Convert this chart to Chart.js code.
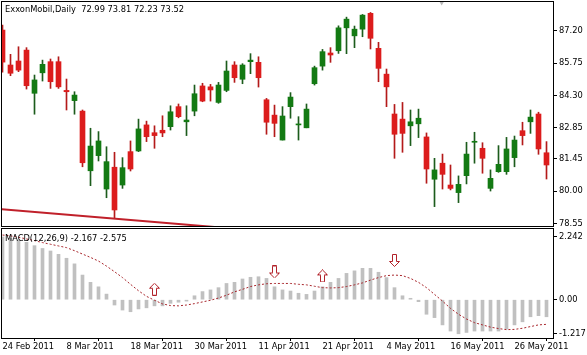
<!DOCTYPE html>
<html>
<head>
<meta charset="utf-8">
<script src="https://cdn.jsdelivr.net/npm/chart.js@4.4.1/dist/chart.umd.min.js"></script>
<style>
  body { margin: 0; background: #fff; }
  #wrap { position: relative; width: 587px; height: 355px; }
  #priceChart { position: absolute; left: 0; top: 0; }
  #macdChart { position: absolute; left: 0; top: 228px; }
</style>
</head>
<body>
<div id="wrap">
  <canvas id="priceChart" width="587" height="228"></canvas>
  <canvas id="macdChart" width="587" height="127"></canvas>
</div>
<script>
// trading days shown on the chart
var dates = ['24 Feb 2011','25 Feb 2011','28 Feb 2011','1 Mar 2011','2 Mar 2011','3 Mar 2011','4 Mar 2011',
  '7 Mar 2011','8 Mar 2011','9 Mar 2011','10 Mar 2011','11 Mar 2011','14 Mar 2011','15 Mar 2011','16 Mar 2011',
  '17 Mar 2011','18 Mar 2011','21 Mar 2011','22 Mar 2011','23 Mar 2011','24 Mar 2011','25 Mar 2011','28 Mar 2011',
  '29 Mar 2011','30 Mar 2011','31 Mar 2011','1 Apr 2011','4 Apr 2011','5 Apr 2011','6 Apr 2011','7 Apr 2011',
  '8 Apr 2011','11 Apr 2011','12 Apr 2011','13 Apr 2011','14 Apr 2011','15 Apr 2011','18 Apr 2011','19 Apr 2011',
  '20 Apr 2011','21 Apr 2011','25 Apr 2011','26 Apr 2011','27 Apr 2011','28 Apr 2011','29 Apr 2011','2 May 2011',
  '3 May 2011','4 May 2011','5 May 2011','6 May 2011','9 May 2011','10 May 2011','11 May 2011','12 May 2011',
  '13 May 2011','16 May 2011','17 May 2011','18 May 2011','19 May 2011','20 May 2011','23 May 2011','24 May 2011',
  '25 May 2011','26 May 2011','27 May 2011','31 May 2011','1 Jun 2011','2 Jun 2011'];
var dateTicks = [0, 8, 16, 24, 32, 40, 48, 56, 64];

var open = [87.24,85.67,85.85,86.34,84.40,85.32,85.82,85.82,84.53,84.07,83.60,80.92,81.60,80.10,81.08,80.28,81.78,
  81.81,82.98,82.63,82.74,82.90,83.80,83.12,83.60,84.73,84.69,83.99,84.53,85.67,85.03,85.82,85.79,84.11,83.42,82.30,
  83.80,82.98,82.85,84.83,85.62,86.21,86.31,87.34,86.98,87.28,87.99,86.42,85.26,83.47,83.24,82.94,83.03,82.44,80.54,
  81.26,80.28,79.94,80.70,82.20,81.93,80.13,80.88,80.88,81.51,82.72,83.12,83.47,81.73];
var high = [87.46,86.15,86.49,86.45,85.22,85.89,85.94,86.04,85.04,84.47,83.65,82.83,82.68,82.00,81.75,81.51,82.26,
  83.24,83.15,82.94,83.39,83.84,83.92,83.84,84.77,84.85,84.80,84.89,85.85,85.82,85.73,86.18,86.04,84.17,83.87,83.80,
  84.43,83.35,83.92,85.62,86.37,86.45,87.43,87.82,87.42,87.94,88.03,86.69,85.49,83.90,83.99,83.65,83.69,82.62,81.48,
  81.67,81.18,80.69,82.20,82.65,82.18,80.96,82.05,82.42,82.48,83.10,83.65,83.55,82.23];
var low = [85.35,85.19,85.37,84.59,83.46,84.95,84.62,84.62,83.65,83.46,81.10,80.25,81.36,79.71,78.79,80.13,80.91,
  81.78,82.23,81.93,82.45,82.75,83.30,82.50,83.39,84.02,84.05,83.95,84.47,84.89,84.83,85.28,84.68,82.56,82.45,82.30,
  83.28,82.30,82.85,84.77,85.44,85.79,86.19,86.18,86.45,86.94,86.39,84.92,83.80,81.48,81.75,82.05,82.41,80.36,79.31,
  80.10,80.06,79.49,80.33,81.26,80.81,80.01,80.85,80.76,81.10,82.08,82.60,81.66,80.55];
var close = [85.80,85.30,85.44,84.74,85.00,85.70,84.92,84.69,84.47,84.32,81.28,82.03,82.26,81.33,79.16,81.06,81.00,
  82.80,82.45,82.50,82.62,83.57,83.35,83.20,84.38,84.05,84.55,84.77,85.40,85.10,85.67,85.89,85.10,83.10,83.05,83.38,
  84.23,83.02,83.69,85.55,86.27,86.12,87.34,87.73,87.28,87.91,86.87,85.52,84.69,82.56,82.60,83.12,83.28,81.00,80.96,
  80.76,80.13,80.31,81.67,82.23,81.48,80.58,81.21,81.90,82.30,82.50,83.33,81.90,81.18];

// support line drawn on the price chart
var trendBars = [-1, 30];
var trendVals = [79.22, 78.29];

// chart shift marker at the top edge
var shiftBar = [54.9];
var shiftVal = [88.5];

var priceTicks = [87.20, 85.75, 84.30, 82.85, 81.45, 80.00, 78.55];

// MACD(12,26,9) main line (histogram) and signal line
var macdMain = [2.242,2.19,2.13,2.05,1.93,1.83,1.74,1.62,1.48,1.28,0.88,0.62,0.46,0.20,-0.19,-0.37,-0.43,-0.33,
  -0.29,-0.22,-0.22,-0.13,-0.09,-0.05,0.14,0.29,0.35,0.43,0.58,0.62,0.74,0.80,0.82,0.76,0.46,0.35,0.31,0.23,0.19,
  0.31,0.46,0.62,0.76,0.94,1.03,1.12,1.12,0.98,0.79,0.43,0.14,0.05,-0.07,-0.52,-0.64,-0.90,-1.12,-1.217,-1.17,
  -1.12,-1.12,-1.12,-1.12,-1.05,-0.90,-0.79,-0.61,-0.57,-0.61];
var macdSignal = [2.31,2.28,2.23,2.17,2.11,2.04,1.98,1.92,1.86,1.75,1.63,1.51,1.38,1.20,1.00,0.79,0.55,0.32,0.12,
  -0.02,-0.15,-0.21,-0.22,-0.19,-0.14,-0.08,-0.02,0.06,0.16,0.28,0.37,0.47,0.53,0.57,0.58,0.58,0.58,0.55,0.53,0.48,
  0.43,0.42,0.43,0.47,0.53,0.60,0.70,0.79,0.86,0.88,0.86,0.76,0.62,0.43,0.19,-0.05,-0.31,-0.52,-0.69,-0.82,-0.90,
  -0.98,-1.03,-1.07,-1.06,-1.02,-0.96,-0.90,-0.88];
var macdTicks = [2.242, 0, -1.217];
var macdTickLabels = ['2.242', '0.00', '-1.217'];

// signal arrows in the MACD window
var arrowBars = [19, 34, 40, 49];
var arrowVals = [0.375, 0.99, 0.85, 1.40];
var arrowDirs = ['up', 'down', 'up', 'down'];

var priceTitle = 'ExxonMobil,Daily  72.99 73.81 72.23 73.52';
var macdTitle = 'MACD(12,26,9) -2.167 -2.575';

var FONT = {family: 'DejaVu Sans', size: 8.3};
var RED_BODY = '#dc1c1c', RED_WICK = '#b41a1a';
var GREEN_BODY = '#137a13', GREEN_WICK = '#1c5c1c';
var X_MIN = -0.0625, X_MAX = 68.8125;

function isUp(i) { return close[i] >= open[i]; }

var bodyData = [], wickData = [], bodyColors = [], wickColors = [];
for (let i = 0; i < open.length; i++) {
  bodyData.push({x: i, y: [open[i], close[i]]});
  wickData.push({x: i, y: [low[i], high[i]]});
  bodyColors.push(isUp(i) ? GREEN_BODY : RED_BODY);
  wickColors.push(isUp(i) ? GREEN_WICK : RED_WICK);
}

// frame round the plot area plus the caption in its top-left corner
function framePlugin(title, ty) {
  return {
    id: 'frame',
    afterDraw(chart) {
      const a = chart.chartArea, c = chart.ctx;
      c.save();
      c.strokeStyle = '#000';
      c.lineWidth = 1;
      c.strokeRect(a.left - 0.5, a.top - 0.5, a.right - a.left + 1, a.bottom - a.top + 1);
      c.fillStyle = '#000';
      c.font = FONT.size + 'px "' + FONT.family + '"';
      c.textBaseline = 'middle';
      c.textAlign = 'left';
      c.fillText(title, a.left + 3, a.top + ty);
      c.restore();
    }
  };
}

// labels may stick out of the plot area, so no extra padding for them
function noPad(s) {
  s.paddingTop = 0; s.paddingBottom = 0; s.paddingLeft = 0; s.paddingRight = 0;
}

function rightAxis(min, max, ticks, labelFn) {
  return {
    position: 'right', min: min, max: max,
    afterBuildTicks: s => { s.ticks = ticks.map(v => ({value: v})); },
    afterFit: s => { s.width = 34; noPad(s); },
    ticks: {callback: labelFn, font: FONT, color: '#000', padding: 2},
    grid: {drawOnChartArea: false, tickLength: 4, color: '#000'},
    border: {display: false}
  };
}

const priceChart = new Chart(document.getElementById('priceChart'), {
  type: 'bar',
  data: {
    datasets: [
      {
        label: 'shift',
        type: 'scatter',
        data: shiftBar.map((b, k) => ({x: b, y: shiftVal[k]})),
        pointStyle: 'triangle',
        rotation: 180,
        radius: 3.5,
        backgroundColor: '#b8b8b8',
        borderColor: '#b8b8b8',
        borderWidth: 0
      },
      {
        label: 'trend',
        type: 'line',
        data: trendBars.map((b, k) => ({x: b, y: trendVals[k]})),
        borderColor: '#c0202a',
        borderWidth: 2,
        pointRadius: 0,
        clip: 0
      },
      {
        label: 'body',
        data: bodyData,
        backgroundColor: bodyColors,
        barThickness: 5,
        minBarLength: 1,
        grouped: false
      },
      {
        label: 'wick',
        data: wickData,
        backgroundColor: wickColors,
        barThickness: 1,
        grouped: false
      }
    ]
  },
  options: {
    responsive: false,
    animation: false,
    layout: {autoPadding: false, padding: {left: 2, top: 2, bottom: 2, right: 0}},
    plugins: {legend: {display: false}, tooltip: {enabled: false}},
    scales: {
      x: {type: 'linear', min: X_MIN, max: X_MAX, offset: false, display: false},
      y: rightAxis(78.44, 88.5, priceTicks, v => v.toFixed(2))
    }
  },
  plugins: [framePlugin(priceTitle, 8)]
});

function arrowImage(dir) {
  const cv = document.createElement('canvas');
  cv.width = 11; cv.height = 13;
  const c = cv.getContext('2d');
  const pts = [[5.5, 0.5], [10.5, 5.5], [7.5, 5.5], [7.5, 12.5], [3.5, 12.5], [3.5, 5.5], [0.5, 5.5]];
  c.beginPath();
  pts.forEach((p, k) => {
    const y = dir === 'up' ? p[1] : 13 - p[1];
    if (k === 0) c.moveTo(p[0], y); else c.lineTo(p[0], y);
  });
  c.closePath();
  c.fillStyle = '#fff';
  c.fill();
  c.strokeStyle = '#b2222a';
  c.lineWidth = 1;
  c.stroke();
  return cv;
}
var arrowImgs = {up: arrowImage('up'), down: arrowImage('down')};

const macdChart = new Chart(document.getElementById('macdChart'), {
  type: 'bar',
  data: {
    datasets: [
      {
        label: 'arrows',
        type: 'scatter',
        data: arrowBars.map((b, k) => ({x: b, y: arrowVals[k]})),
        pointStyle: ctx => arrowImgs[arrowDirs[ctx.dataIndex]],
        pointRadius: 6
      },
      {
        label: 'Signal',
        type: 'line',
        data: macdSignal.map((v, i) => ({x: i, y: v})),
        borderColor: '#a8262c',
        borderWidth: 1,
        borderDash: [2, 2],
        pointRadius: 0,
        clip: 0
      },
      {
        label: 'MACD',
        data: macdMain.map((v, i) => ({x: i, y: v})),
        backgroundColor: '#c0c0c0',
        barThickness: 3,
        grouped: false
      }
    ]
  },
  options: {
    responsive: false,
    animation: false,
    layout: {autoPadding: false, padding: {left: 2, top: 1, bottom: 0, right: 0}},
    plugins: {legend: {display: false}, tooltip: {enabled: false}},
    scales: {
      x: {
        type: 'linear', min: X_MIN, max: X_MAX, offset: false,
        afterBuildTicks: s => { s.ticks = dateTicks.map(v => ({value: v})); },
        afterFit: s => { s.height = 17; noPad(s); },
        ticks: {callback: v => dates[v], align: 'start', font: FONT, color: '#000',
                padding: 1, maxRotation: 0, autoSkip: false},
        grid: {drawOnChartArea: false, tickLength: 3, color: '#000'},
        border: {display: false}
      },
      y: rightAxis(-1.368, 2.525, macdTicks, (v, idx) => macdTickLabels[idx])
    }
  },
  plugins: [framePlugin(macdTitle, 10)]
});
</script>
</body>
</html>
